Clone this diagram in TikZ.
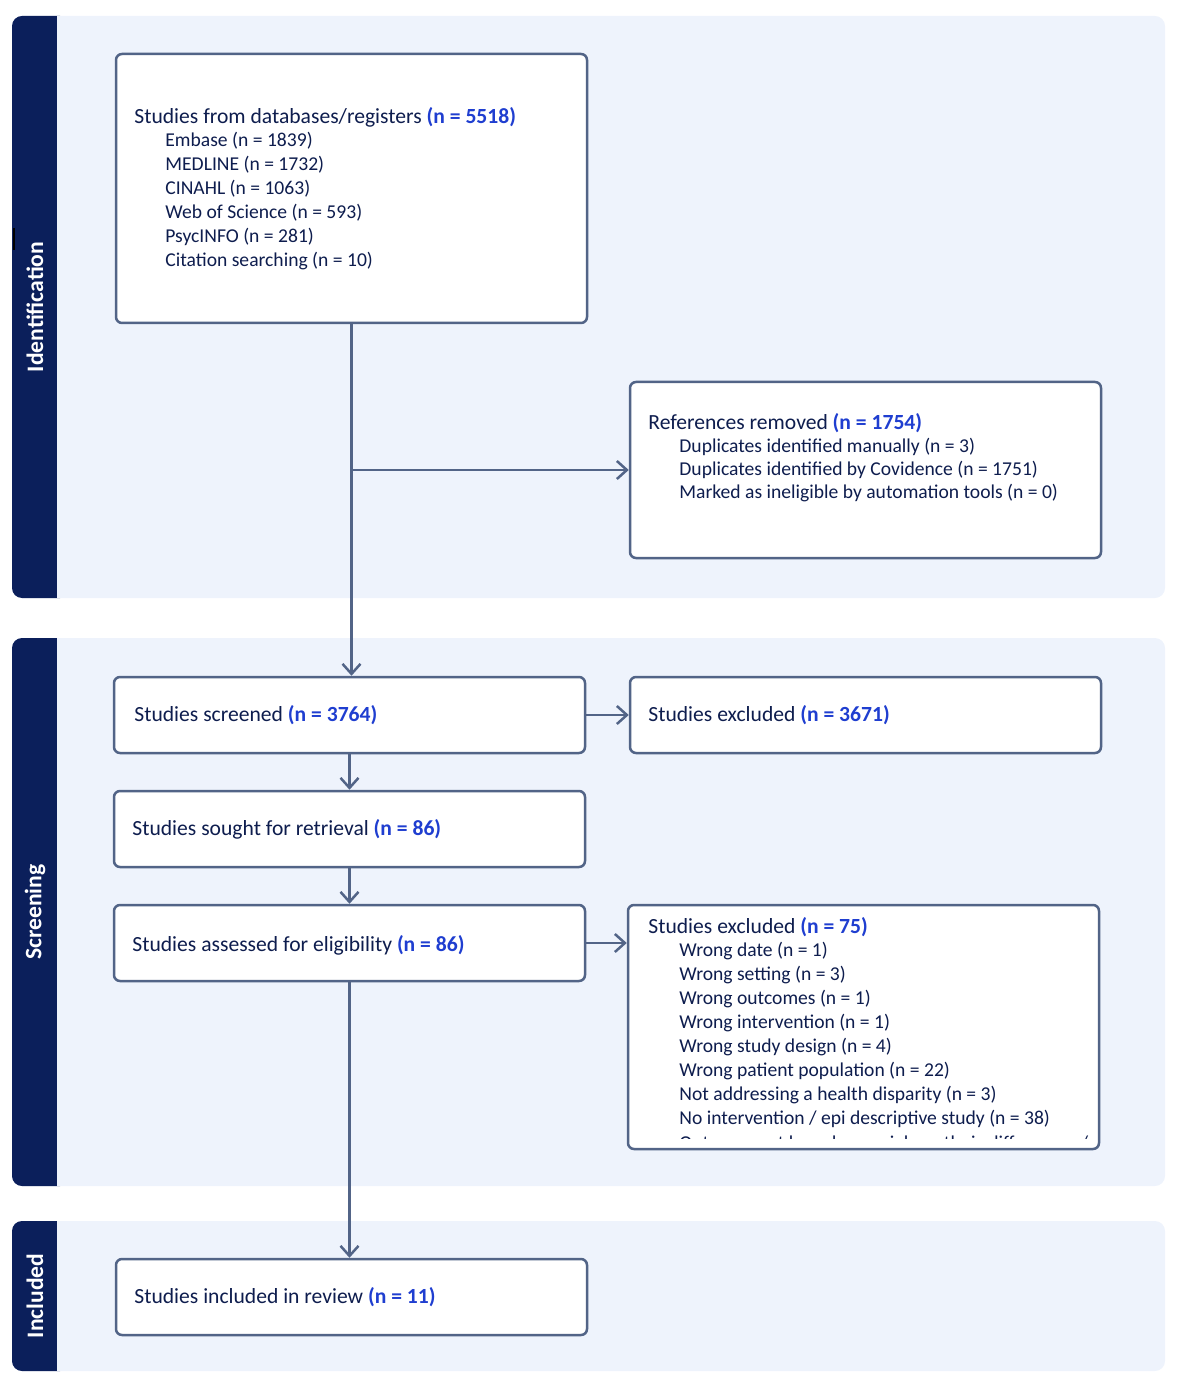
\documentclass[tikz,border=0pt]{standalone}
\usepackage{fontspec}
\setmainfont{Carlito}
\usepackage{xcolor}
\usepackage{tikz}
\usetikzlibrary{positioning}
\usetikzlibrary{arrows.meta}

\definecolor{navy}{HTML}{0B1F5B}
\definecolor{panel}{HTML}{EEF3FC}
\definecolor{boxline}{HTML}{526487}
\definecolor{textnavy}{HTML}{0E1D4E}
\definecolor{numblue}{HTML}{1F3ED0}

\newcommand{\nval}[1]{\textcolor{numblue}{\textbf{(n = #1)}}}

\begin{document}
\begin{tikzpicture}[x=0.5pt,y=-0.5pt]
			\tikzset{BoxStyle/.style = {draw=boxline, line width=1.25pt, fill=white, rounded corners=3pt, inner sep=0pt},
				TextStyle/.style = {anchor=west, inner sep=0pt, text=textnavy, font=\fontsize{10.8pt}{13pt}\selectfont},
				ItemStyle/.style = {TextStyle, font=\fontsize{9.8pt}{12pt}\selectfont},
				BandLabel/.style = {rotate=90, text=white, font=\fontsize{11.8pt}{14pt}\selectfont\bfseries},
				LinkStyle/.style = {draw=boxline, line width=1.25pt, -{Straight Barb[length=5pt,width=9pt,line width=1.25pt]}}}
			\useasboundingbox (0,0) rectangle (1182,1400);
			%\draw[help lines] (0,0) grid (1182,1400);
			
			% bands
			\foreach \t/\b/\lab in {16/598/Identification, 638/1186/Screening, 1221/1371/Included}{
				\fill[panel, rounded corners=5pt] (12,\t) rectangle (1165,\b);
				\fill[navy, rounded corners=5pt] (12,\t) rectangle (70,\b);
				\fill[panel] (57,\t) rectangle (80,\b);
				\node[BandLabel] (lab\lab) at (35,{(\t+\b)/2}) {\lab};
			}
			\draw[black, line width=1pt] (14,228) -- (14,250);
			
			% boxes
			\node[BoxStyle, minimum width=235.5pt, minimum height=134.5pt] (src) at (351.5,188.5) {};
			\node[BoxStyle, minimum width=235.5pt, minimum height=88pt] (removed) at (865.5,470) {};
			\node[BoxStyle, minimum width=235.5pt, minimum height=38pt] (screened) at (349.5,715) {};
			\node[BoxStyle, minimum width=235.5pt, minimum height=38pt] (excl1) at (865.5,715) {};
			\node[BoxStyle, minimum width=235.5pt, minimum height=38pt] (sought) at (349.5,829) {};
			\node[BoxStyle, minimum width=235.5pt, minimum height=38pt] (assessed) at (349.5,943) {};
			\node[BoxStyle, minimum width=235.5pt, minimum height=122pt] (excl2) at (863.5,1027) {};
			\node[BoxStyle, minimum width=235.5pt, minimum height=38pt] (included) at (351.5,1297) {};
			
			% texts
			\node[TextStyle] (srct) at (134,117) {Studies from databases/registers \nval{5518}};
			\foreach \s [count=\i] in {Embase (n = 1839), MEDLINE (n = 1732), CINAHL (n = 1063), Web of Science (n = 593), PsycINFO (n = 281), Citation searching (n = 10)}
				\node[ItemStyle] (src\i) at (165,{117+24*\i}) {\s};
			\node[TextStyle] (removedt) at (648,423) {References removed \nval{1754}};
			\foreach \s [count=\i] in {Duplicates identified manually (n = 3), Duplicates identified by Covidence (n = 1751), Marked as ineligible by automation tools (n = 0)}
				\node[ItemStyle] (removed\i) at (679,{423+23.5*\i}) {\s};
			\node[TextStyle] (screenedt) at (134,715) {Studies screened \nval{3764}};
			\node[TextStyle] (excl1t) at (648,715) {Studies excluded \nval{3671}};
			\node[TextStyle] (soughtt) at (132,829) {Studies sought for retrieval \nval{86}};
			\node[TextStyle] (assessedt) at (132,945) {Studies assessed for eligibility \nval{86}};
			\node[TextStyle] (excl2t) at (648,927) {Studies excluded \nval{75}};
			\foreach \s [count=\i] in {Wrong date (n = 1), Wrong setting (n = 3), Wrong outcomes (n = 1), Wrong intervention (n = 1), Wrong study design (n = 4), Wrong patient population (n = 22), Not addressing a health disparity (n = 3), No intervention / epi descriptive study (n = 38)}
				\node[ItemStyle] (excl2\i) at (679,{927+24*\i}) {\s};
			\begin{scope}
				\clip (632,1100) rectangle (1096,1138);
				\node[ItemStyle] (excl29) at (679,1143) {Outcome not based on racial or ethnic differences /};
			\end{scope}
			\node[TextStyle] (includedt) at (134,1297) {Studies included in review \nval{11}};
			
			% links
			\draw[LinkStyle] (src.south) -- (src.south |- screened.north);
			\draw[LinkStyle] (src.south |- removed.west) -- (removed.west);
			\draw[LinkStyle] (screened.east) -- (excl1.west);
			\draw[LinkStyle] (screened.south) -- (sought.north);
			\draw[LinkStyle] (sought.south) -- (assessed.north);
			\draw[LinkStyle] (assessed.east) -- (excl2.west |- assessed.east);
			\draw[LinkStyle] (assessed.south) -- (assessed.south |- included.north);
			
		\end{tikzpicture}
\end{document}
